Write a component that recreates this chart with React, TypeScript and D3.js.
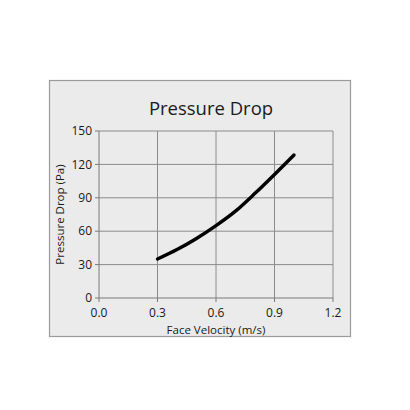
import * as React from 'react';
import * as d3 from 'd3';

const velocity = [0.3, 0.4, 0.5, 0.6, 0.7, 0.8, 0.9, 1.0];
const pressure = [35, 43.5, 53.5, 65, 78, 94, 111, 128.5];
const xTicks = [0, 0.3, 0.6, 0.9, 1.2];
const yTicks = [0, 30, 60, 90, 120, 150];

const font = "'Open Sans', 'Noto Sans', sans-serif";

export default function App() {
  const width = 410;
  const height = 410;
  const plot = {left: 99, right: 333, top: 131, bottom: 298};

  const x = d3.scaleLinear().domain([0, 1.2]).range([plot.left, plot.right]);
  const y = d3.scaleLinear().domain([0, 150]).range([plot.bottom, plot.top]);

  const line = d3.line<number>()
    .x((_, i) => x(velocity[i]))
    .y(d => y(d))
    .curve(d3.curveMonotoneX);

  return (
    <svg width={width} height={height}
         style={{position: 'absolute', left: 0, top: 0, background: '#fff'}}>
      <rect x={49.5} y={80.5} width={301} height={256} fill="#ebebeb" stroke="#9a9a9a" strokeWidth={1.2}/>

      {/* grid */}
      {yTicks.slice(1).map(t => (
        <line key={'gy' + t} x1={plot.left} x2={plot.right} y1={y(t)} y2={y(t)} stroke="#8c8c8c" strokeWidth={1}/>
      ))}
      {xTicks.slice(1).map(t => (
        <line key={'gx' + t} x1={x(t)} x2={x(t)} y1={plot.top} y2={plot.bottom} stroke="#8c8c8c" strokeWidth={1}/>
      ))}

      {/* axes */}
      <line x1={plot.left} x2={plot.left} y1={plot.top} y2={plot.bottom} stroke="#7a7a7a"/>
      <line x1={plot.left} x2={plot.right} y1={plot.bottom} y2={plot.bottom} stroke="#7a7a7a"/>
      {yTicks.map(t => (
        <g key={'ty' + t}>
          <line x1={plot.left - 4} x2={plot.left} y1={y(t)} y2={y(t)} stroke="#7a7a7a"/>
          <text x={plot.left - 7} y={y(t)} dy="0.35em" textAnchor="end"
                fontFamily={font} fontSize={12} fill="#1a1a1a">{t}</text>
        </g>
      ))}
      {xTicks.map(t => (
        <g key={'tx' + t}>
          <line x1={x(t)} x2={x(t)} y1={plot.bottom} y2={plot.bottom + 4} stroke="#7a7a7a"/>
          <text x={x(t)} y={plot.bottom + 19} textAnchor="middle"
                fontFamily={font} fontSize={12} fill="#1a1a1a">{d3.format('.1f')(t)}</text>
        </g>
      ))}

      <path d={line(pressure) || ''} fill="none" stroke="#000" strokeWidth={3.4} strokeLinecap="round"/>

      <text x={211} y={115} textAnchor="middle" fontFamily={font} fontSize={18.5} fill="#1a1a1a">Pressure Drop</text>
      <text x={216} y={334} textAnchor="middle" fontFamily={font} fontSize={11.5} fill="#1a1a1a">Face Velocity (m/s)</text>
      <text transform={`translate(64,${(plot.top + plot.bottom) / 2}) rotate(-90)`} textAnchor="middle"
            fontFamily={font} fontSize={11.5} fill="#1a1a1a">Pressure Drop (Pa)</text>
    </svg>
  );
}
